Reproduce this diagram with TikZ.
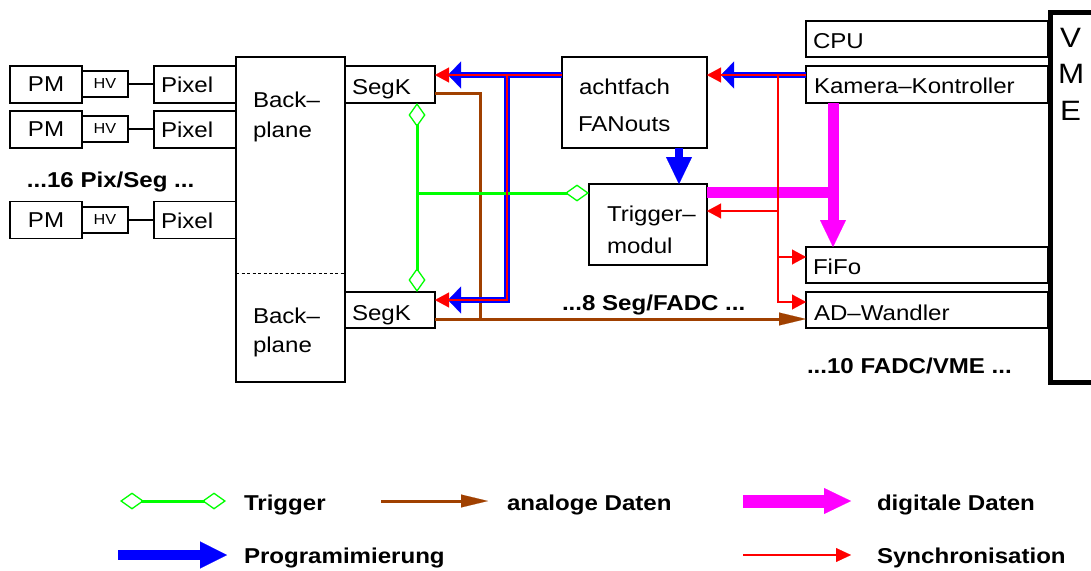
\documentclass[tikz,border=0pt]{standalone}
\usepackage{fontspec}
\setmainfont{Liberation Sans}[FakeStretch=1.12]
\usetikzlibrary{arrows.meta}
\definecolor{trigcol}{RGB}{0,255,0}
\definecolor{anacol}{RGB}{160,64,0}
\definecolor{digcol}{RGB}{255,0,255}
\definecolor{progcol}{RGB}{0,0,255}
\definecolor{synccol}{RGB}{255,0,0}
\begin{document}
\begin{tikzpicture}[x=1pt,y=-1pt,
  box/.style={draw, line width=1.3pt, inner sep=0pt, outer sep=0pt, font=\fontsize{21.5}{24}\selectfont},
  hvbox/.style={box, font=\fontsize{14.5}{16}\selectfont, minimum width=46pt, minimum height=26pt},
  txt/.style={anchor=base west, inner sep=0pt, outer sep=0pt, font=\fontsize{21.5}{24}\selectfont},
  btxt/.style={txt, font=\fontsize{21.5}{24}\selectfont\bfseries},
  vtxt/.style={txt, font=\fontsize{28}{30}\selectfont},
  thinline/.style={draw, line width=1.3pt},
  dotline/.style={draw, line width=1pt, dash pattern=on 3pt off 2.5pt},
  trgl/.style={draw=trigcol, line width=3pt},
  anal/.style={draw=anacol, line width=3pt},
  digl/.style={draw=digcol, line width=11pt},
  digleg/.style={draw=digcol, line width=13pt},
  progl/.style={draw=progcol, line width=5.5pt},
  progdl/.style={draw=progcol, line width=7.5pt},
  progleg/.style={draw=progcol, line width=10pt},
  syncl/.style={draw=synccol, line width=1.5pt},
  trigtip/.tip={Diamond[open, length=24pt, width=17pt, line width=1.3pt]},
  anatip/.tip={Triangle[length=27pt, width=13pt, line width=0.1pt]},
  digtip/.tip={Triangle[length=27pt, width=26pt, line width=0.1pt]},
  progtip/.tip={Triangle[length=13pt, width=27pt, line width=0.1pt]},
  progdtip/.tip={Triangle[length=27pt, width=26pt, line width=0.1pt]},
  proglegtip/.tip={Triangle[length=27pt, width=27pt, line width=0.1pt]},
  synctip/.tip={Triangle[length=14pt, width=15pt, line width=0.1pt]},
  synclegtip/.tip={Triangle[length=15pt, width=14pt, line width=0.1pt]}
]
\useasboundingbox (0,0) rectangle (1091,570);

% level coordinates
\coordinate (yprog) at (0,75);
\coordinate (yprogl) at (0,300);
\coordinate (xprog) at (507,0);
\coordinate (yana) at (0,93);
\coordinate (yanal) at (0,319);
\coordinate (xana) at (480,0);
\coordinate (xgr) at (417,0);
\coordinate (ygr) at (0,193);
\coordinate (xsync) at (778,0);
\coordinate (ysyt) at (0,211);
\coordinate (ysyf) at (0,257);
\coordinate (ysya) at (0,302);
\coordinate (xdig) at (833,0);
\coordinate (xdigr) at (838.5,0);
\coordinate (ydig) at (0,192);
\coordinate (xdown) at (679,0);
\coordinate (ydot) at (0,273);

% left column
\node[box, minimum width=72pt, minimum height=37pt] (pm1) at (46,84.5) {PM};
\node[hvbox] (hv1) at (105,84) {HV};
\node[box, minimum width=82pt, minimum height=37pt] (px1) at (195,84.5) {};
\node[txt] (px1t) at (161,92.5) {Pixel};
\draw[thinline] (hv1.east) -- (hv1.east -| px1.west);

\node[box, minimum width=72pt, minimum height=37pt] (pm2) at (46,129.5) {PM};
\node[hvbox] (hv2) at (105,129) {HV};
\node[box, minimum width=82pt, minimum height=37pt] (px2) at (195,129.5) {};
\node[txt] (px2t) at (161,137.5) {Pixel};
\draw[thinline] (hv2.east) -- (hv2.east -| px2.west);

\node[btxt] (pixseg) at (27,187) {...16 Pix/Seg ...};

\node[box, minimum width=72pt, minimum height=37pt] (pm3) at (46,220) {PM};
\node[hvbox] (hv3) at (105,220) {HV};
\node[box, minimum width=82pt, minimum height=37pt] (px3) at (195,220) {};
\node[txt] (px3t) at (161,228) {Pixel};
\draw[thinline] (hv3.east) -- (hv3.east -| px3.west);

% backplane
\node[box, minimum width=109pt, minimum height=325pt] (bp) at (290.5,219.5) {};
\draw[dotline] (bp.west |- ydot) -- (bp.east |- ydot);
\node[txt] (bp1a) at (253,107) {Back\textendash};
\node[txt] (bp1b) at (253,137) {plane};
\node[txt] (bp2a) at (253,323) {Back\textendash};
\node[txt] (bp2b) at (253,352) {plane};

% SegK
\node[box, minimum width=90pt, minimum height=37pt] (sk1) at (390,84.5) {};
\node[txt] (sk1t) at (352,94) {SegK};
\node[box, minimum width=90pt, minimum height=36pt] (sk2) at (390,310) {};
\node[txt] (sk2t) at (352,320) {SegK};

% fanout and trigger
\node[box, minimum width=145pt, minimum height=91pt] (fan) at (634.5,102.5) {};
\node[txt] (fant1) at (579,94) {achtfach};
\node[txt] (fant2) at (578,131) {FANouts};
\node[box, minimum width=118pt, minimum height=81pt] (trig) at (648,224.5) {};
\node[txt] (trigt1) at (607,221) {Trigger\textendash};
\node[txt] (trigt2) at (607,253) {modul};

% VME side
\node[box, minimum width=242pt, minimum height=36pt] (cpu) at (927,39) {};
\node[txt] (cput) at (813,48) {CPU};
\node[box, minimum width=242pt, minimum height=37pt] (kam) at (927,84.5) {};
\node[txt] (kamt) at (814,93) {Kamera\textendash Kontroller};
\node[box, minimum width=242pt, minimum height=36pt] (fifo) at (927,265) {};
\node[txt] (fifot) at (813,274) {FiFo};
\node[box, minimum width=242pt, minimum height=36pt] (ad) at (927,310) {};
\node[txt] (adt) at (814,320) {AD\textendash Wandler};
\draw[line width=5pt] (1096,12) -| (1050,382) -- (1096,382);
\node[vtxt] (vv) at (1060,47) {V};
\node[vtxt] (vm) at (1058,83) {M};
\node[vtxt] (ve) at (1060,120) {E};

\node[btxt] (segfadc) at (562,310) {...8 Seg/FADC ...};
\node[btxt] (fadcvme) at (807,373) {...10 FADC/VME ...};

% digital data
\draw[digl] (trig.east |- ydig) -- (xdigr |- ydig);
\draw[digl, -digtip] (kam.south -| xdig) -- (fifo.north -| xdig);

% analog data
\draw[anal, line join=miter] (sk1.east |- yana) -- (xana |- yana) -- (xana |- yanal);
\draw[anal, -anatip] (sk2.east |- yanal) -- (ad.west |- yanal);

% programming
\draw[progl, -progtip, shorten >=13pt] (fan.west |- yprog) -- (sk1.east |- yprog);
\draw[progl, -progtip, shorten >=13pt] (xprog |- yprog) -- (xprog |- yprogl) -- (sk2.east |- yprogl);
\draw[progl, -progtip, shorten >=14pt] (kam.west |- yprog) -- (fan.east |- yprog);
\draw[progdl, -progdtip] (fan.south -| xdown) -- (trig.north -| xdown);

% trigger
\draw[trgl, trigtip-trigtip] (sk1.south -| xgr) -- (sk2.north -| xgr);
\draw[trgl, -trigtip] (xgr |- ygr) -- (trig.west |- ygr);

% synchronisation
\draw[syncl, -synctip] (fan.west |- yprog) -- (sk1.east |- yprog);
\draw[syncl, -synctip] (xprog |- yprog) -- (xprog |- yprogl) -- (sk2.east |- yprogl);
\draw[syncl, -synctip] (kam.west |- yprog) -- (fan.east |- yprog);
\draw[syncl, -synctip] (xsync |- yprog) -- (xsync |- ysya) -- (ad.west |- ysya);
\draw[syncl, -synctip] (xsync |- ysyf) -- (fifo.west |- ysyf);
\draw[syncl, -synctip] (xsync |- ysyt) -- (trig.east |- ysyt);

% legend
\coordinate (lg1a) at (120,501);
\coordinate (lg1b) at (226,501);
\draw[trgl, trigtip-trigtip] (lg1a) -- (lg1b);
\node[btxt] (lt1) at (244,510) {Trigger};
\coordinate (lg2a) at (381,501);
\coordinate (lg2b) at (488,501);
\draw[anal, -anatip] (lg2a) -- (lg2b);
\node[btxt] (lt2) at (507,510) {analoge Daten};
\coordinate (lg3a) at (743,501);
\coordinate (lg3b) at (851,501);
\draw[digleg, -digtip] (lg3a) -- (lg3b);
\node[btxt] (lt3) at (877,510) {digitale Daten};
\coordinate (lg4a) at (118,555);
\coordinate (lg4b) at (227,555);
\draw[progleg, -proglegtip] (lg4a) -- (lg4b);
\node[btxt] (lt4) at (244,563) {Programimierung};
\coordinate (lg5a) at (743,555);
\coordinate (lg5b) at (851,555);
\draw[syncl, -synclegtip] (lg5a) -- (lg5b);
\node[btxt] (lt5) at (877,563) {Synchronisation};
\end{tikzpicture}
\end{document}
